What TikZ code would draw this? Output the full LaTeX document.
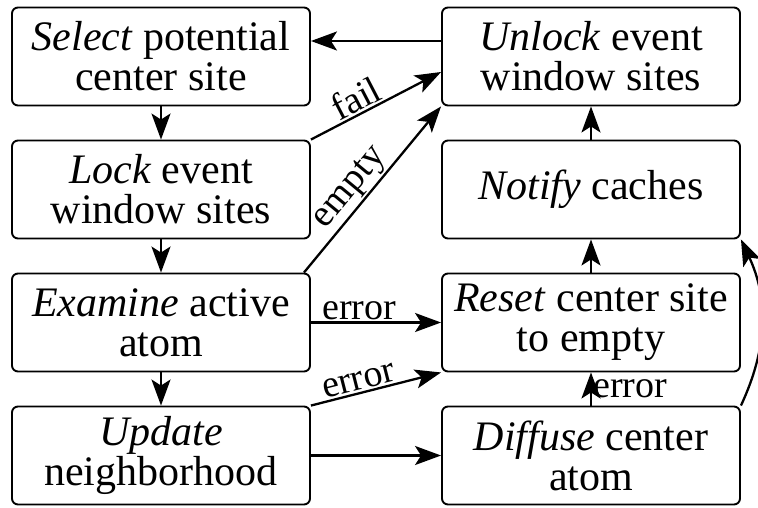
\documentclass[tikz,border=0pt]{standalone}
\usepackage{fontspec}
\setmainfont{Liberation Serif}
\usetikzlibrary{arrows.meta,calc}
\begin{document}
\begin{tikzpicture}[x=1pt,y=-1pt,
  box/.style={draw, line width=1.9pt, rounded corners=6pt, minimum width=298pt, minimum height=98pt,
    align=center, inner sep=0pt, font=\fontsize{42}{40}\selectfont},
  arr/.style={line width=2.3pt, -{Stealth[length=26pt,width=19pt,inset=6pt]}},
  lbl/.style={font=\fontsize{38}{38}\selectfont, inner sep=1.5pt}]
\useasboundingbox (0,0) rectangle (758,508);
\node[box] (select) at (161,56.5) {\textit{Select} potential\\center site};
\node[box] (lock) at (161,189.5) {\textit{Lock} event\\window sites};
\node[box] (examine) at (161,322.5) {\textit{Examine} active\\atom};
\node[box] (update) at (161,455.5) {\textit{Update}\\neighborhood};
\node[box] (unlock) at (591,56.5) {\textit{Unlock} event\\window sites};
\node[box] (notify) at (591,189.5) {\textit{Notify} caches};
\node[box] (reset) at (591,322.5) {\textit{Reset} center site\\to empty};
\node[box] (diffuse) at (591,455.5) {\textit{Diffuse} center\\atom};
\coordinate (u1) at (unlock.west |- 0,41);
\coordinate (s1) at (select.east |- 0,41);
\coordinate (u2) at (unlock.west |- 0,72);
\coordinate (e1) at ($(examine.north east)+(-7,0)$);
\draw[arr] (u1) -- (s1);
\draw[arr] (select.south) -- (lock.north);
\draw[arr] (lock.south) -- (examine.north);
\draw[arr] (examine.south) -- (update.north);
\draw[arr] (lock.north east) -- node[lbl, sloped, above, pos=0.4] {fail} (u2);
\draw[arr] (e1) -- node[lbl, sloped, above, pos=0.44] {empty} (unlock.south west);
\draw[arr] (examine.east) -- node[lbl, above, pos=0.37] {error} (reset.west);
\draw[arr] (update.north east) -- node[lbl, sloped, above, pos=0.39] {error} (reset.south west);
\draw[arr] (update.east) -- (diffuse.west);
\draw[arr] (diffuse.north) -- node[lbl, right, inner sep=1pt] {error} (reset.south);
\draw[arr] (reset.north) -- (notify.south);
\draw[arr] (notify.north) -- (unlock.south);
\draw[arr] (diffuse.north east) to[bend right=25] (notify.south east);
\end{tikzpicture}
\end{document}
